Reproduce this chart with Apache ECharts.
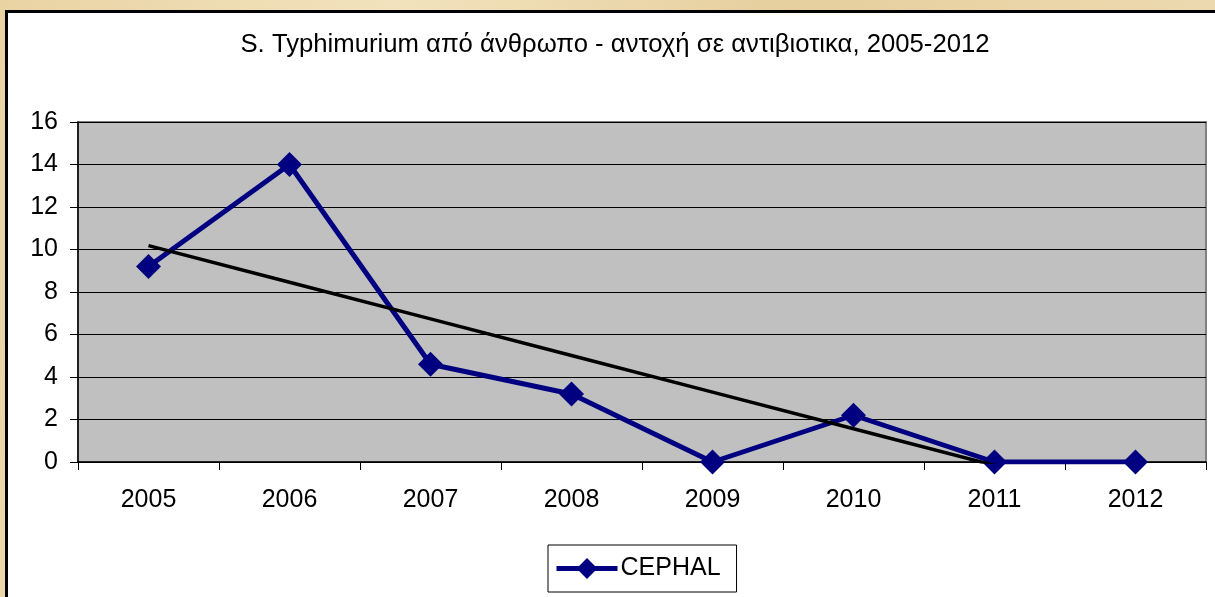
<!DOCTYPE html>
<html>
<head>
<meta charset="utf-8">
<script src="https://cdn.jsdelivr.net/npm/echarts@6/dist/echarts.min.js"></script>
<style>
  html, body { margin: 0; padding: 0; }
  body {
    width: 1215px; height: 597px; overflow: hidden; position: relative;
    background: linear-gradient(100deg, #e9d3a3 0%, #f2e2bd 30%, #e6cf9e 60%, #efdcb3 100%);
  }
  #frame {
    position: absolute; left: 5px; top: 10px; width: 1300px; height: 700px;
    border: 3px solid #000; background: #fff;
  }
  #main { position: absolute; left: 0; top: 0; width: 1215px; height: 597px; }
</style>
</head>
<body>
<div id="frame"></div>
<div id="main"></div>
<script>
var years = ['2005', '2006', '2007', '2008', '2009', '2010', '2011', '2012'];
var cephal = [9.2, 14, 4.6, 3.2, 0, 2.2, 0, 0];
var yTicks = { min: 0, max: 16, step: 2 };

// linear trend line (least squares over the series, like the original chart)
var n = cephal.length;
var mx = (n + 1) / 2, my = 0;
cephal.forEach(function (v) { my += v / n; });
var sxy = 0, sxx = 0;
cephal.forEach(function (v, i) {
  sxy += (i + 1 - mx) * (v - my);
  sxx += (i + 1 - mx) * (i + 1 - mx);
});
var slope = sxy / sxx;
var trend = years.map(function (y, i) { return my + slope * (i + 1 - mx); });

var font = "'Liberation Sans', Arial, sans-serif";
var chart = echarts.init(document.getElementById('main'), null, { renderer: 'canvas' });
chart.setOption({
  animation: false,
  title: {
    text: 'S. Typhimurium από άνθρωπο - αντοχή σε αντιβιοτικα, 2005-2012',
    left: 610,
    top: 27,
    textAlign: 'center',
    textStyle: { fontFamily: font, fontSize: 25.7, fontWeight: 'normal', color: '#000' }
  },
  grid: {
    left: 78, top: 122, right: 9, bottom: 135,
    show: true,
    backgroundColor: '#c0c0c0',
    borderColor: '#808080',
    borderWidth: 2
  },
  legend: {
    data: ['CEPHAL'],
    left: 548,
    top: 545,
    padding: [11, 16, 11, 6],
    itemWidth: 61,
    itemHeight: 26,
    itemGap: 0,
    borderColor: '#000',
    borderWidth: 1,
    backgroundColor: '#fff',
    lineStyle: { width: 5 },
    textStyle: { fontFamily: font, fontSize: 25, color: '#000', padding: [0, 0, 0, -2] }
  },
  xAxis: {
    type: 'category',
    data: years,
    boundaryGap: true,
    axisLine: { lineStyle: { color: '#000', width: 1.5 } },
    axisTick: { show: true, length: 8, lineStyle: { color: '#000' } },
    axisLabel: { fontFamily: font, fontSize: 25, color: '#000', margin: 26 }
  },
  yAxis: {
    type: 'value',
    min: yTicks.min,
    max: yTicks.max,
    interval: yTicks.step,
    axisLine: { show: true, lineStyle: { color: '#000', width: 1.5 } },
    axisTick: { show: true, length: 8, lineStyle: { color: '#000' } },
    axisLabel: { fontFamily: font, fontSize: 25, color: '#000', margin: 20 },
    splitLine: { show: true, lineStyle: { color: '#000', width: 1 } }
  },
  series: [
    {
      name: 'CEPHAL',
      type: 'line',
      data: cephal,
      symbol: 'diamond',
      symbolSize: 25,
      itemStyle: { color: '#000080' },
      lineStyle: { color: '#000080', width: 5 },
      z: 3
    },
    {
      name: 'trend',
      type: 'line',
      data: trend,
      symbol: 'none',
      clip: true,
      lineStyle: { color: '#000', width: 3.5 },
      z: 4
    }
  ]
});
</script>
</body>
</html>
